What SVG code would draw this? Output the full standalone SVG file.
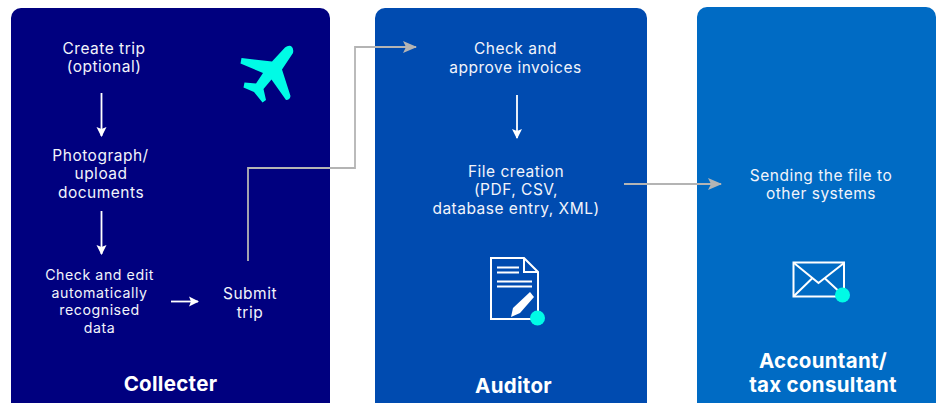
<svg xmlns="http://www.w3.org/2000/svg" width="941" height="403" viewBox="0 0 941 403">
<defs>
<marker id="w" viewBox="0 0 10 12" markerWidth="10" markerHeight="12" refX="9" refY="6" orient="auto" markerUnits="userSpaceOnUse"><path d="M0 1L10 6L0 11L2 6Z" fill="#fff"/></marker>
<marker id="g" viewBox="0 0 14 12" markerWidth="14" markerHeight="12" refX="13" refY="6" orient="auto" markerUnits="userSpaceOnUse"><path d="M0 0L14 6L0 12L3 6Z" fill="#b4b4b4"/></marker>
</defs>
<style>
text{font-family:"Inter","Liberation Sans",sans-serif;fill:#f2f4fb;text-anchor:middle;font-size:15.5px;letter-spacing:.5px}
.s{font-size:14.2px;letter-spacing:.55px}
.t{font-size:20.5px;font-weight:700;fill:#fff;letter-spacing:.3px}
.w{fill:none;stroke:#fff;stroke-width:1.8}
.g{fill:none;stroke:#b4b4b4;stroke-width:1.8}
.i{fill:none;stroke:#fff;stroke-width:2}
.c{fill:#00fbe6}
</style>
<rect width="941" height="403" fill="#fff"/>
<g id="collecter">
<rect x="11" y="8" width="319" height="410" rx="10" fill="#00007f"/>
<text x="104" y="53.500">Create trip</text><text x="104" y="71.500">(optional)</text>
<text x="100.500" y="160.500">Photograph/</text><text x="101" y="179">upload</text><text x="101" y="197.500">documents</text>
<text class="s" x="99.500" y="280">Check and edit</text><text class="s" x="99.500" y="297.500">automatically</text><text class="s" x="99.500" y="315">recognised</text><text class="s" x="99.500" y="332.500">data</text>
<text x="250" y="298.500">Submit</text><text x="250" y="317.500">trip</text>
<text class="t" x="170.500" y="391">Collecter</text>
<path class="c" d="M291 46Q294 48 293 53L282 69.500L290.500 96Q290 100 286 100L271.500 79.500L263.500 89L266 100L262.500 102.500L254 92L243.500 87.500L244.500 82.500L256 83.500L263 73L240.500 63.500L241.500 58L272 61.500L285 47.500Q288 45 291 46Z"/>
</g>
<g id="auditor">
<rect x="375" y="8" width="272" height="410" rx="10" fill="#004bb0"/>
<text x="515.500" y="53.500">Check and</text><text x="515.500" y="72.500">approve invoices</text>
<text x="516" y="176.500">File creation</text><text x="516" y="195">(PDF, CSV,</text><text x="516" y="213.500">database entry, XML)</text>
<text class="t" x="513.500" y="393">Auditor</text>
<path class="i" d="M491 258H524L538 272V319H491Z"/>
<path class="i" d="M524 258V272H538"/>
<path d="M497 267.500H519M497 272.500H519M497 281.500H532M497 286.500H532" fill="none" stroke="#fff" stroke-width="1.800"/>
<path d="M530 292L534 297L520 313L511 317L513 308Z" fill="#fff"/>
<circle class="c" cx="537.500" cy="318" r="7.500"/>
</g>
<g id="accountant">
<rect x="697" y="7" width="239" height="411" rx="10" fill="#006bc4"/>
<text x="821" y="180.500">Sending the file to</text><text x="821" y="198.500">other systems</text>
<text class="t" x="823" y="368">Accountant/</text><text class="t" x="823" y="392">tax consultant</text>
<rect class="i" x="793.500" y="262.500" width="50.500" height="34"/>
<path class="i" d="M794 263L818.500 283L844 263M794 296L812 278.500M844 296L825 278.500"/>
<circle class="c" cx="842.500" cy="295" r="7.500"/>
</g>
<g id="connectors">
<path class="w" d="M101.500 93V136" marker-end="url(#w)"/>
<path class="w" d="M101.500 211V254" marker-end="url(#w)"/>
<path class="w" d="M171 301.500H198" marker-end="url(#w)"/>
<path class="w" d="M517 95V138" marker-end="url(#w)"/>
<path class="g" d="M248 261V168H355V47H416" marker-end="url(#g)"/>
<path class="g" d="M624 184H721" marker-end="url(#g)"/>
</g>
</svg>
